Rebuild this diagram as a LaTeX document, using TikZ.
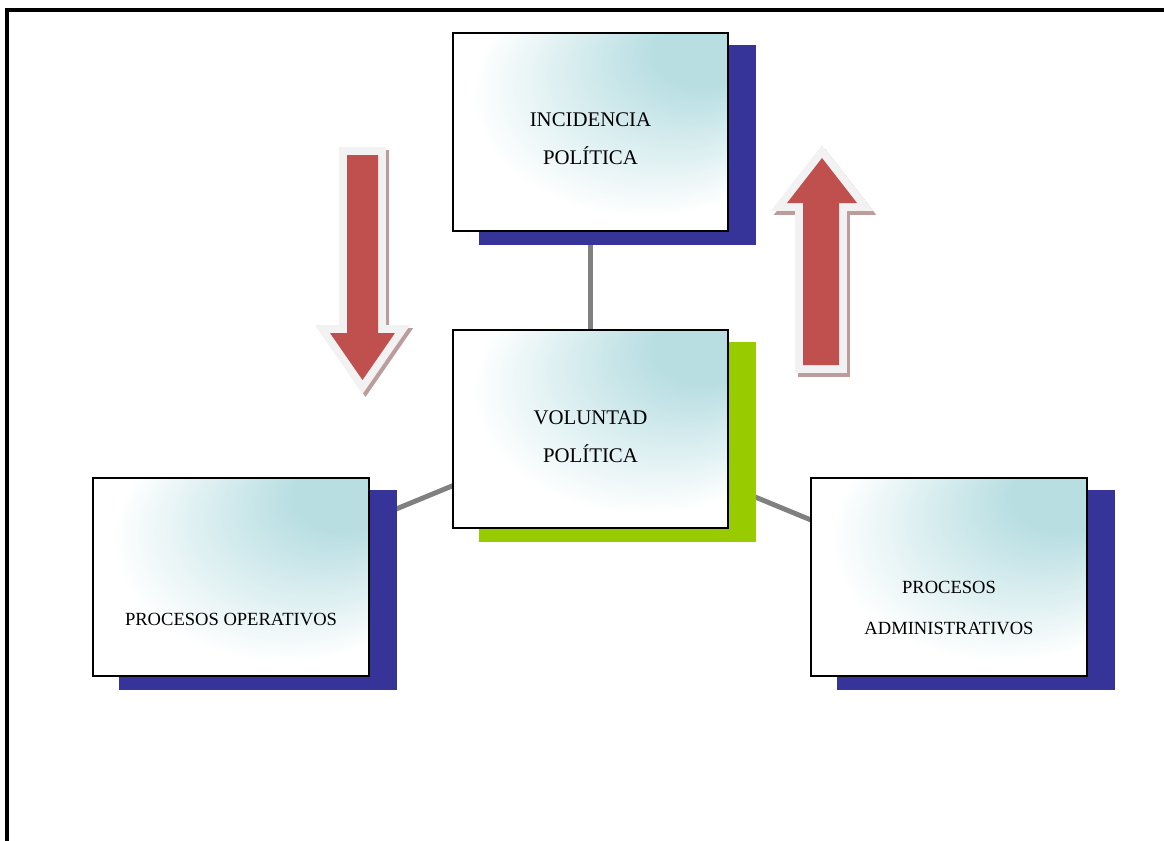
\documentclass[tikz,border=0pt]{standalone}
\usepackage{fontspec}
\setmainfont{Liberation Serif}
\usetikzlibrary{calc, backgrounds}

\definecolor{boxteal}{RGB}{184,222,226}
\definecolor{navyshade}{RGB}{54,52,153}
\definecolor{limeshade}{RGB}{153,204,0}
\definecolor{linkgray}{RGB}{128,128,128}
\definecolor{arrowred}{RGB}{192,80,77}
\definecolor{arrowrim}{RGB}{242,242,242}
\definecolor{arrowshade}{RGB}{188,156,156}

\pgfdeclareradialshading{boxglow}{\pgfpoint{25bp}{25bp}}{color(0bp)=(boxteal); color(9bp)=(boxteal); color(31bp)=(white); color(50bp)=(white)}

\tikzstyle{box} = [rectangle, draw=black, line width=1.4pt, shade, shading=boxglow, minimum width=6.875cm, minimum height=4.95cm]
\tikzstyle{title} = [align=center, font=\fontsize{14.8}{27}\selectfont]
\tikzstyle{subtitle} = [align=center, font=\fontsize{13.2}{29}\selectfont]
\tikzstyle{link} = [draw=linkgray, line width=3.5pt]
\tikzstyle{redarrow} = [fill=arrowred, preaction={draw=arrowrim, line width=11.3pt}]
\tikzstyle{arrowshadow} = [fill=arrowshade, draw=arrowshade, line width=11.3pt]

\begin{document}
\begin{tikzpicture}[x=0.025cm, y=-0.025cm]

  \useasboundingbox (0,0) rectangle (1164,841);
  \draw [line width=2.4pt] (7,841) -- (7,10) -- (1164,10);

  \node (incidencia) [box] at (590.5,132) {};
  \node (voluntad) [box] at (590.5,429) {};
  \node (operativos) [box] at (231,577) {};
  \node (administrativos) [box] at (949,577) {};

  \node (incidencia-txt) [title] at ($(incidencia.center)+(0,7)$) {INCIDENCIA\\POLÍTICA};
  \node (voluntad-txt) [title] at ($(voluntad.center)+(0,8)$) {VOLUNTAD\\POLÍTICA};
  \node (operativos-txt) [subtitle] at ($(operativos.center)+(0,42)$) {PROCESOS OPERATIVOS};
  \node (administrativos-txt) [subtitle] at ($(administrativos.center)+(0,31)$) {PROCESOS\\ADMINISTRATIVOS};

  \begin{pgfonlayer}{background}
    \draw [link] (incidencia.center) -- (voluntad.center);
    \draw [link] (voluntad.center) -- (operativos.center);
    \draw [link] (voluntad.center) -- (administrativos.center);

    \fill [navyshade] ([shift={(27,13)}]incidencia.north west) rectangle ([shift={(27,13)}]incidencia.south east);
    \fill [limeshade] ([shift={(27,13)}]voluntad.north west) rectangle ([shift={(27,13)}]voluntad.south east);
    \fill [navyshade] ([shift={(27,13)}]operativos.north west) rectangle ([shift={(27,13)}]operativos.south east);
    \fill [navyshade] ([shift={(27,13)}]administrativos.north west) rectangle ([shift={(27,13)}]administrativos.south east);
  \end{pgfonlayer}

  \filldraw [arrowshadow, shift={(3,3)}] (347,155) -- (378,155) -- (378,333) -- (395,333) -- (362.5,380) -- (330,333) -- (347,333) -- cycle;
  \fill [redarrow] (347,155) -- (378,155) -- (378,333) -- (395,333) -- (362.5,380) -- (330,333) -- (347,333) -- cycle;

  \filldraw [arrowshadow, shift={(3,4)}] (822,158) -- (857,203) -- (839,203) -- (839,365) -- (803,365) -- (803,203) -- (787,203) -- cycle;
  \fill [redarrow] (822,158) -- (857,203) -- (839,203) -- (839,365) -- (803,365) -- (803,203) -- (787,203) -- cycle;

\end{tikzpicture}
\end{document}
